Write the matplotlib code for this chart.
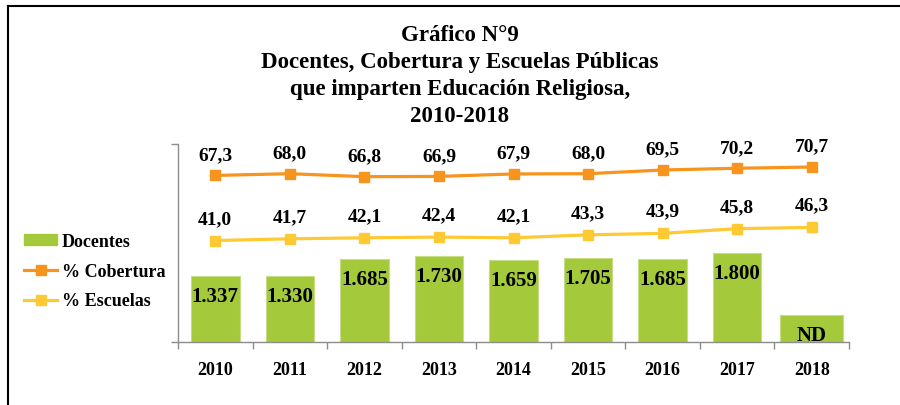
import matplotlib
matplotlib.use("Agg")
import matplotlib.pyplot as plt
from matplotlib.lines import Line2D
from matplotlib.patches import Patch
import numpy as np

plt.rcParams['font.family'] = ['Liberation Serif', 'DejaVu Serif']
plt.rcParams['font.weight'] = 'bold'

years = ['2010', '2011', '2012', '2013', '2014', '2015', '2016', '2017', '2018']
docentes = [1337, 1330, 1685, 1730, 1659, 1705, 1685, 1800, 550]  # 2018 = ND placeholder
docentes_labels = ['1.337', '1.330', '1.685', '1.730', '1.659', '1.705', '1.685', '1.800', 'ND']
cobertura = [67.3, 68.0, 66.8, 66.9, 67.9, 68.0, 69.5, 70.2, 70.7]
escuelas = [41.0, 41.7, 42.1, 42.4, 42.1, 43.3, 43.9, 45.8, 46.3]

GREEN = '#A4C93A'
ORANGE = '#F7941E'
YELLOW = '#FFC933'
GRAY = '#8C8C8C'

fig = plt.figure(figsize=(9, 4.06), dpi=100)
ax = fig.add_axes([178/900, 1-343/406, (849-178)/900, (343-145)/406])
ax2 = ax.twinx()

x = np.arange(len(years))
widths = [0.65]*8 + [0.845]
bars = ax.bar(x, docentes, width=widths, color=GREEN, edgecolor='#C5DD85', linewidth=0.8, zorder=2)
for xi, v, lab in zip(x, docentes, docentes_labels):
    ax.annotate(lab, (xi, v), xytext=(0, -14.4), textcoords='offset points',
                ha='center', va='center', fontsize=15, fontweight='bold', color='black')

ax.set_xlim(-0.5, 8.5)
ax.set_ylim(0, 4000)
ax.set_xticks(x)
ax.set_xticklabels(years, fontsize=13, fontweight='bold')
ax.set_xticks(np.arange(-0.5, 9.0, 1.0), minor=True)
ax.tick_params(axis='x', which='major', length=0, pad=14)
ax.tick_params(axis='x', which='minor', length=5, color=GRAY, width=1)
ax.set_yticks([0, 4000])
ax.set_yticklabels([])
ax.tick_params(axis='y', length=5, color=GRAY, width=1)
for s in ['top', 'right']:
    ax.spines[s].set_visible(False)
for s in ['left', 'bottom']:
    ax.spines[s].set_color(GRAY)
    ax.spines[s].set_linewidth(1)

ax2.plot(x, cobertura, color=ORANGE, lw=2.3, marker='s', ms=7.5, zorder=3)
ax2.plot(x, escuelas, color=YELLOW, lw=2.3, marker='s', ms=7.5, zorder=3)
for xi, v in zip(x, cobertura):
    ax2.annotate(f"{v:.1f}".replace('.', ','), (xi, v), xytext=(0, 15), textcoords='offset points',
                 ha='center', va='center', fontsize=14, fontweight='bold')
for xi, v in zip(x, escuelas):
    ax2.annotate(f"{v:.1f}".replace('.', ','), (xi, v), xytext=(0, 16), textcoords='offset points',
                 ha='center', va='center', fontsize=14, fontweight='bold')
ax2.set_ylim(0, 80)
ax2.set_yticks([])
for s in ax2.spines.values():
    s.set_visible(False)

fig.text(0.511, 1-25/406, "Gráfico N°9\nDocentes, Cobertura y Escuelas Públicas\nque imparten Educación Religiosa,\n2010-2018",
         ha='center', va='top', fontsize=16.5, fontweight='bold', linespacing=1.38)

handles = [Patch(facecolor=GREEN, edgecolor=GREEN),
           Line2D([], [], color=ORANGE, lw=2.3, marker='s', ms=7.5),
           Line2D([], [], color=YELLOW, lw=2.3, marker='s', ms=7.5)]
fig.legend(handles, ['Docentes', '% Cobertura', '% Escuelas'], loc='upper left',
           bbox_to_anchor=(24/900, 1-234/406), frameon=False, borderpad=0, borderaxespad=0,
           handlelength=1.85, handleheight=0.5, handletextpad=0.25, labelspacing=0.7,
           prop={'family': 'Liberation Serif', 'weight': 'bold', 'size': 13})

fig.add_artist(Line2D([7.5/900, 1.0], [1-6.5/406, 1-6.5/406], color='black', lw=1.5, transform=fig.transFigure))
fig.add_artist(Line2D([7.5/900, 7.5/900], [0, 1-6.5/406], color='black', lw=1.5, transform=fig.transFigure))

fig.savefig('out.png', dpi=100)
